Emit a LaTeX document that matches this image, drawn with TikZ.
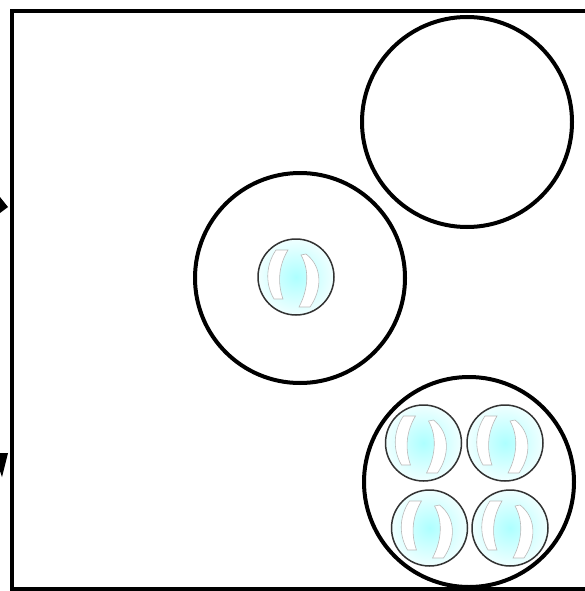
\documentclass[tikz,border=0pt]{standalone}
\usetikzlibrary{shadings}

\begin{document}
\begin{tikzpicture}[x=1pt, y=-1pt,
    cell/.style={circle, draw, line width=4pt, minimum size=210pt, inner sep=0pt},
    bubble/.style={circle, draw=black!80, line width=1.5pt, minimum size=76pt, inner sep=0pt,
      inner color=cyan!32!white, outer color=cyan!6!white},
    shine/.style={fill=white, draw=gray!55, line width=0.6pt}]
  \useasboundingbox (0,0) rectangle (585,591);
  \clip (0,0) rectangle (585,591);

  % frame
  \draw[line width=4pt] (590,11) -- (11.5,11) -- (11.5,589) -- (590,589);

  % arrow tips coming in from the left
  \fill (0,197) -- (8,207) -- (0,213) -- cycle;
  \fill (0,453) -- (8,453) -- (2,477) -- (0,471) -- cycle;

  % cells
  \node[cell] (empty) at (467,122) {};
  \node[cell] (single) at (300,278) {};
  \node[cell] (full) at (469,482) {};

  % bubbles
  \node[bubble] (b0) at (296,277) {};
  \node[bubble] (b1) at (423.5,443) {};
  \node[bubble] (b2) at (505,443) {};
  \node[bubble] (b3) at (429.5,528) {};
  \node[bubble] (b4) at (510,528) {};

  % highlights
  \foreach \b in {b0,b1,b2,b3,b4} {
    \begin{scope}[shift={(\b.center)}]
      \draw[shine] (-20,-27) -- (-8,-27) .. controls (-17,-12) and (-19,5) .. (-13,22)
        -- (-22,22) .. controls (-32,5) and (-29,-14) .. (-20,-27) -- cycle;
      \draw[shine] (10,-23) .. controls (27,-10) and (26,13) .. (14,30)
        -- (3,30) .. controls (13,11) and (13,-8) .. (5,-22) -- cycle;
    \end{scope}
  }
\end{tikzpicture}
\end{document}
